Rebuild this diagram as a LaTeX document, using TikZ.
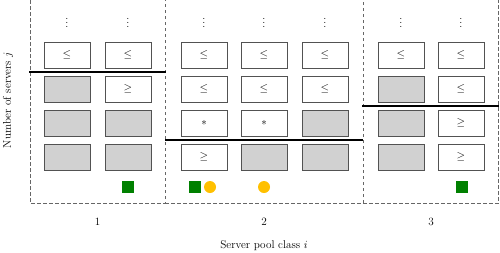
\documentclass[tikz,border=0pt]{standalone}
\usepackage{amssymb}
\definecolor{dgreen}{RGB}{0,128,0}
\definecolor{amber}{RGB}{255,192,0}
\begin{document}
\begin{tikzpicture}[x=1pt,y=-1pt,
 every node/.style={font=\fontsize{11.2}{13}\selectfont},
 cell/.style={draw=black!68, line width=0.7pt, minimum width=46pt, minimum height=26pt, inner sep=0pt, fill=white},
 gcell/.style={cell, fill=black!18},
 panel/.style={draw=black!60, dash pattern=on 3.5pt off 2.5pt, line width=0.6pt},
 sepline/.style={line width=1.5pt},
 gsq/.style={fill=dgreen, minimum size=12pt, inner sep=0pt},
 ocirc/.style={circle, fill=amber, minimum size=12pt, inner sep=0pt},
 dotsnode/.style={inner sep=0pt}]
\useasboundingbox (0,0) rectangle (500,252);
% panels
\draw[panel] (30,0) -- (30,203) -- (165,203) -- (165,0);
\draw[panel] (165,203) -- (363,203) -- (363,0);
\draw[panel] (363,203) -- (498.5,203) -- (498.5,0);
% panel 1
\node[dotsnode] (d11) at (67,20) {$\vdots$};
\node[dotsnode] (d12) at (128,20) {$\vdots$};
\node[cell] (a11) at (67,55) {$\leq$};
\node[cell] (a12) at (128,55) {$\leq$};
\node[gcell] (a21) at (67,89) {};
\node[cell] (a22) at (128,89) {$\geq$};
\node[gcell] (a31) at (67,123) {};
\node[gcell] (a32) at (128,123) {};
\node[gcell] (a41) at (67,157) {};
\node[gcell] (a42) at (128,157) {};
\node[gsq] (ga) at (128,187) {};
% panel 2
\node[dotsnode] (d21) at (204,20) {$\vdots$};
\node[dotsnode] (d22) at (264,20) {$\vdots$};
\node[dotsnode] (d23) at (325,20) {$\vdots$};
\node[cell] (b11) at (204,55) {$\leq$};
\node[cell] (b12) at (264,55) {$\leq$};
\node[cell] (b13) at (325,55) {$\leq$};
\node[cell] (b21) at (204,89) {$\leq$};
\node[cell] (b22) at (264,89) {$\leq$};
\node[cell] (b23) at (325,89) {$\leq$};
\node[cell] (b31) at (204,123) {$*$};
\node[cell] (b32) at (264,123) {$*$};
\node[gcell] (b33) at (325,123) {};
\node[cell] (b41) at (204,157) {$\geq$};
\node[gcell] (b42) at (264,157) {};
\node[gcell] (b43) at (325,157) {};
\node[gsq] (gb) at (195,187) {};
\node[ocirc] (ob1) at (210,187) {};
\node[ocirc] (ob2) at (264,187) {};
% panel 3
\node[dotsnode] (d31) at (401,20) {$\vdots$};
\node[dotsnode] (d32) at (461,20) {$\vdots$};
\node[cell] (c11) at (401,55) {$\leq$};
\node[cell] (c12) at (461,55) {$\leq$};
\node[gcell] (c21) at (401,89) {};
\node[cell] (c22) at (461,89) {$\leq$};
\node[gcell] (c31) at (401,123) {};
\node[cell] (c32) at (461,123) {$\geq$};
\node[gcell] (c41) at (401,157) {};
\node[cell] (c42) at (461,157) {$\geq$};
\node[gsq] (gc) at (462,187) {};
% separator lines
\coordinate (s1a) at (29,72); \coordinate (s1b) at (166,72);
\coordinate (s2a) at (165,140); \coordinate (s2b) at (363,140);
\coordinate (s3a) at (362,106); \coordinate (s3b) at (499,106);
\draw[sepline] (s1a) -- (s1b);
\draw[sepline] (s2a) -- (s2b);
\draw[sepline] (s3a) -- (s3b);
% labels
\node (l1) at (97.5,222) {1};
\node (l2) at (264,222) {2};
\node (l3) at (431,222) {3};
\node (xl) at (264,246) {Server pool class $i$};
\node[rotate=90] (yl) at (8,100) {Number of servers $j$};
\end{tikzpicture}
\end{document}
